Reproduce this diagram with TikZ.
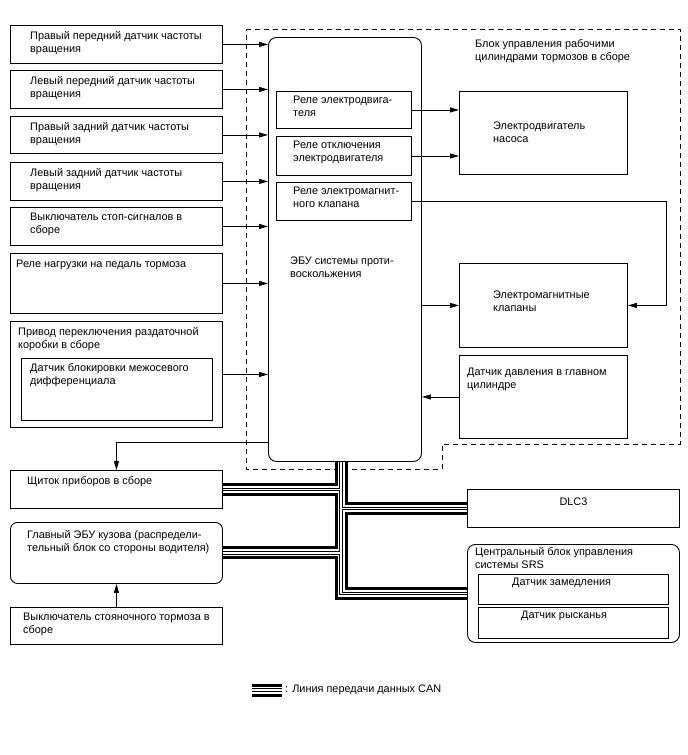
\documentclass[tikz,border=0pt]{standalone}
\usepackage{fontspec}
\setmainfont{Liberation Sans}
\usetikzlibrary{arrows.meta,positioning,calc}

\begin{document}
\begin{tikzpicture}[
  x=1pt, y=-1pt,
  font=\fontsize{10.9}{13}\selectfont,
  >={Triangle[length=9pt,width=5pt]},
  box/.style={draw, line width=0.9pt, anchor=north west, inner sep=0pt},
  rbox/.style={box, rounded corners=7pt},
  txt/.style={inner sep=0pt, align=left},
  arr/.style={->, line width=0.9pt},
  dashline/.style={draw, line width=0.9pt, dash pattern=on 5pt off 4pt},
  canbus/.style={
    draw=black, line width=13pt,
    postaction={draw=white, line width=7pt},
    postaction={draw=black, line width=3.4pt},
    postaction={draw=white, line width=1.2pt}
  }
]
  \useasboundingbox (0,0) rectangle (688,755);

  % Sensors and switches on the left
  \node[box, minimum width=212pt, minimum height=38pt] (frs) at (10,25) {};
  \node[txt, below right=6pt and 20pt of frs.north west] (frst) {Правый передний датчик частоты\\вращения};
  \node[box, minimum width=212pt, minimum height=38pt] (fls) at (10,70) {};
  \node[txt, below right=6pt and 20pt of fls.north west] (flst) {Левый передний датчик частоты\\вращения};
  \node[box, minimum width=212pt, minimum height=37pt] (rrs) at (10,116) {};
  \node[txt, below right=6pt and 20pt of rrs.north west] (rrst) {Правый задний датчик частоты\\вращения};
  \node[box, minimum width=212pt, minimum height=38pt] (rls) at (10,162) {};
  \node[txt, below right=6pt and 20pt of rls.north west] (rlst) {Левый задний датчик частоты\\вращения};
  \node[box, minimum width=212pt, minimum height=38pt] (stop) at (10,207) {};
  \node[txt, below right=6pt and 20pt of stop.north west] (stopt) {Выключатель стоп-сигналов в\\сборе};
  \node[box, minimum width=212pt, minimum height=60pt] (pedal) at (10,253) {};
  \node[txt, below right=7pt and 6pt of pedal.north west] (pedalt) {Реле нагрузки на педаль тормоза};
  \node[box, minimum width=212pt, minimum height=106pt] (tfa) at (10,321) {};
  \node[txt, below right=6pt and 8pt of tfa.north west] (tfat) {Привод переключения раздаточной\\коробки в сборе};
  \node[box, minimum width=191pt, minimum height=62pt] (cdl) at (21,358) {};
  \node[txt, below right=5pt and 9pt of cdl.north west] (cdlt) {Датчик блокировки межосевого\\дифференциала};

  % Actuator assembly
  \draw[dashline] (246,29) -- (680,29) -- (680,444) -- (442,444) -- (442,469) -- (246,469) -- cycle;
  \node[txt, anchor=north west] (absl) at (475,39) {Блок управления рабочими\\цилиндрами тормозов в сборе};

  \node[rbox, minimum width=153pt, minimum height=424pt, rounded corners=8pt] (ecu) at (268,37) {};
  \node[txt, below right=220pt and 22pt of ecu.north west] (ecut) {ЭБУ системы проти-\\воскольжения};
  \node[box, minimum width=135pt, minimum height=37pt] (rmot) at (276,91) {};
  \node[txt, below right=5pt and 17pt of rmot.north west] (rmott) {Реле электродвига-\\теля};
  \node[box, minimum width=135pt, minimum height=39pt] (rcut) at (276,136) {};
  \node[txt, below right=5pt and 17pt of rcut.north west] (rcutt) {Реле отключения\\электродвигателя};
  \node[box, minimum width=135pt, minimum height=38pt] (rsol) at (276,182) {};
  \node[txt, below right=5pt and 17pt of rsol.north west] (rsolt) {Реле электромагнит-\\ного клапана};

  \node[box, minimum width=168pt, minimum height=83pt] (pump) at (459,91) {};
  \node[txt, below right=31pt and 34pt of pump.north west] (pumpt) {Электродвигатель\\насоса};
  \node[box, minimum width=168pt, minimum height=84pt] (sol) at (459,263) {};
  \node[txt, below right=28pt and 34pt of sol.north west] (solt) {Электромагнитные\\клапаны};
  \node[box, minimum width=168pt, minimum height=83pt] (mcs) at (459,355) {};
  \node[txt, below right=13pt and 8pt of mcs.north west] (mcst) {Датчик давления в главном\\цилиндре};

  % Units on the CAN line
  \node[box, minimum width=212pt, minimum height=38pt] (meter) at (10,470) {};
  \node[txt, below right=6pt and 17pt of meter.north west] (metert) {Щиток приборов в сборе};
  \node[rbox, minimum width=212pt, minimum height=61pt] (mbecu) at (10,522) {};
  \node[txt, below right=8pt and 17pt of mbecu.north west] (mbecut) {Главный ЭБУ кузова (распредели-\\тельный блок со стороны водителя)};
  \node[box, minimum width=212pt, minimum height=37pt] (pkb) at (10,607) {};
  \node[txt, below right=6pt and 13pt of pkb.north west] (pkbt) {Выключатель стояночного тормоза в\\сборе};
  \node[box, minimum width=212pt, minimum height=38pt] (dlc) at (467,489) {};
  \node[txt, below=9pt of dlc.north] (dlct) {DLC3};
  \node[rbox, minimum width=212pt, minimum height=98pt, rounded corners=8pt] (srs) at (467,544) {};
  \node[txt, below right=3pt and 8pt of srs.north west] (srst) {Центральный блок управления\\системы SRS};
  \node[box, minimum width=190pt, minimum height=30pt] (dsen) at (478,574) {};
  \node[txt, below right=4pt and 34pt of dsen.north west] (dsent) {Датчик замедления};
  \node[box, minimum width=190pt, minimum height=31pt] (ysen) at (478,607) {};
  \node[txt, below right=4pt and 43pt of ysen.north west] (ysent) {Датчик рысканья};

  % Signals
  \foreach \s in {frs,fls,rrs,rls,stop,pedal,tfa}
    \draw[arr] (\s.east) -- (\s.east -| ecu.west);
  \draw[arr] (rmot.east) -- (rmot.east -| pump.west);
  \draw[arr] (rcut.east) -- (rcut.east -| pump.west);
  \draw[arr] (rsol.east) -| ($(sol.east)+(39,0)$) -- (sol.east);
  \draw[arr] (sol.west -| ecu.east) -- (sol.west);
  \draw[arr] (mcs.west) -- (mcs.west -| ecu.east);
  \coordinate (mtap) at ($(ecu.south west)+(0,-19)$);
  \draw[arr] (mtap) -| (meter.north);
  \draw[arr] (pkb.north) -- (mbecu.south);

  % CAN
  \coordinate (cantop) at ($(ecu.south west)+(73,0)$);
  \draw[canbus] (cantop) |- (srs.west)
    (meter.east) -- (meter.east -| cantop)
    (mbecu.east) -- (mbecu.east -| cantop)
    (dlc.west) -- (dlc.west -| cantop);

  % Legend
  \coordinate (lga) at (252,690);
  \coordinate (lgb) at (282,690);
  \draw[canbus] (lga) -- (lgb);
  \node[txt, right=3pt of lgb] (lgtxt) {: Линия передачи данных CAN};
\end{tikzpicture}
\end{document}
